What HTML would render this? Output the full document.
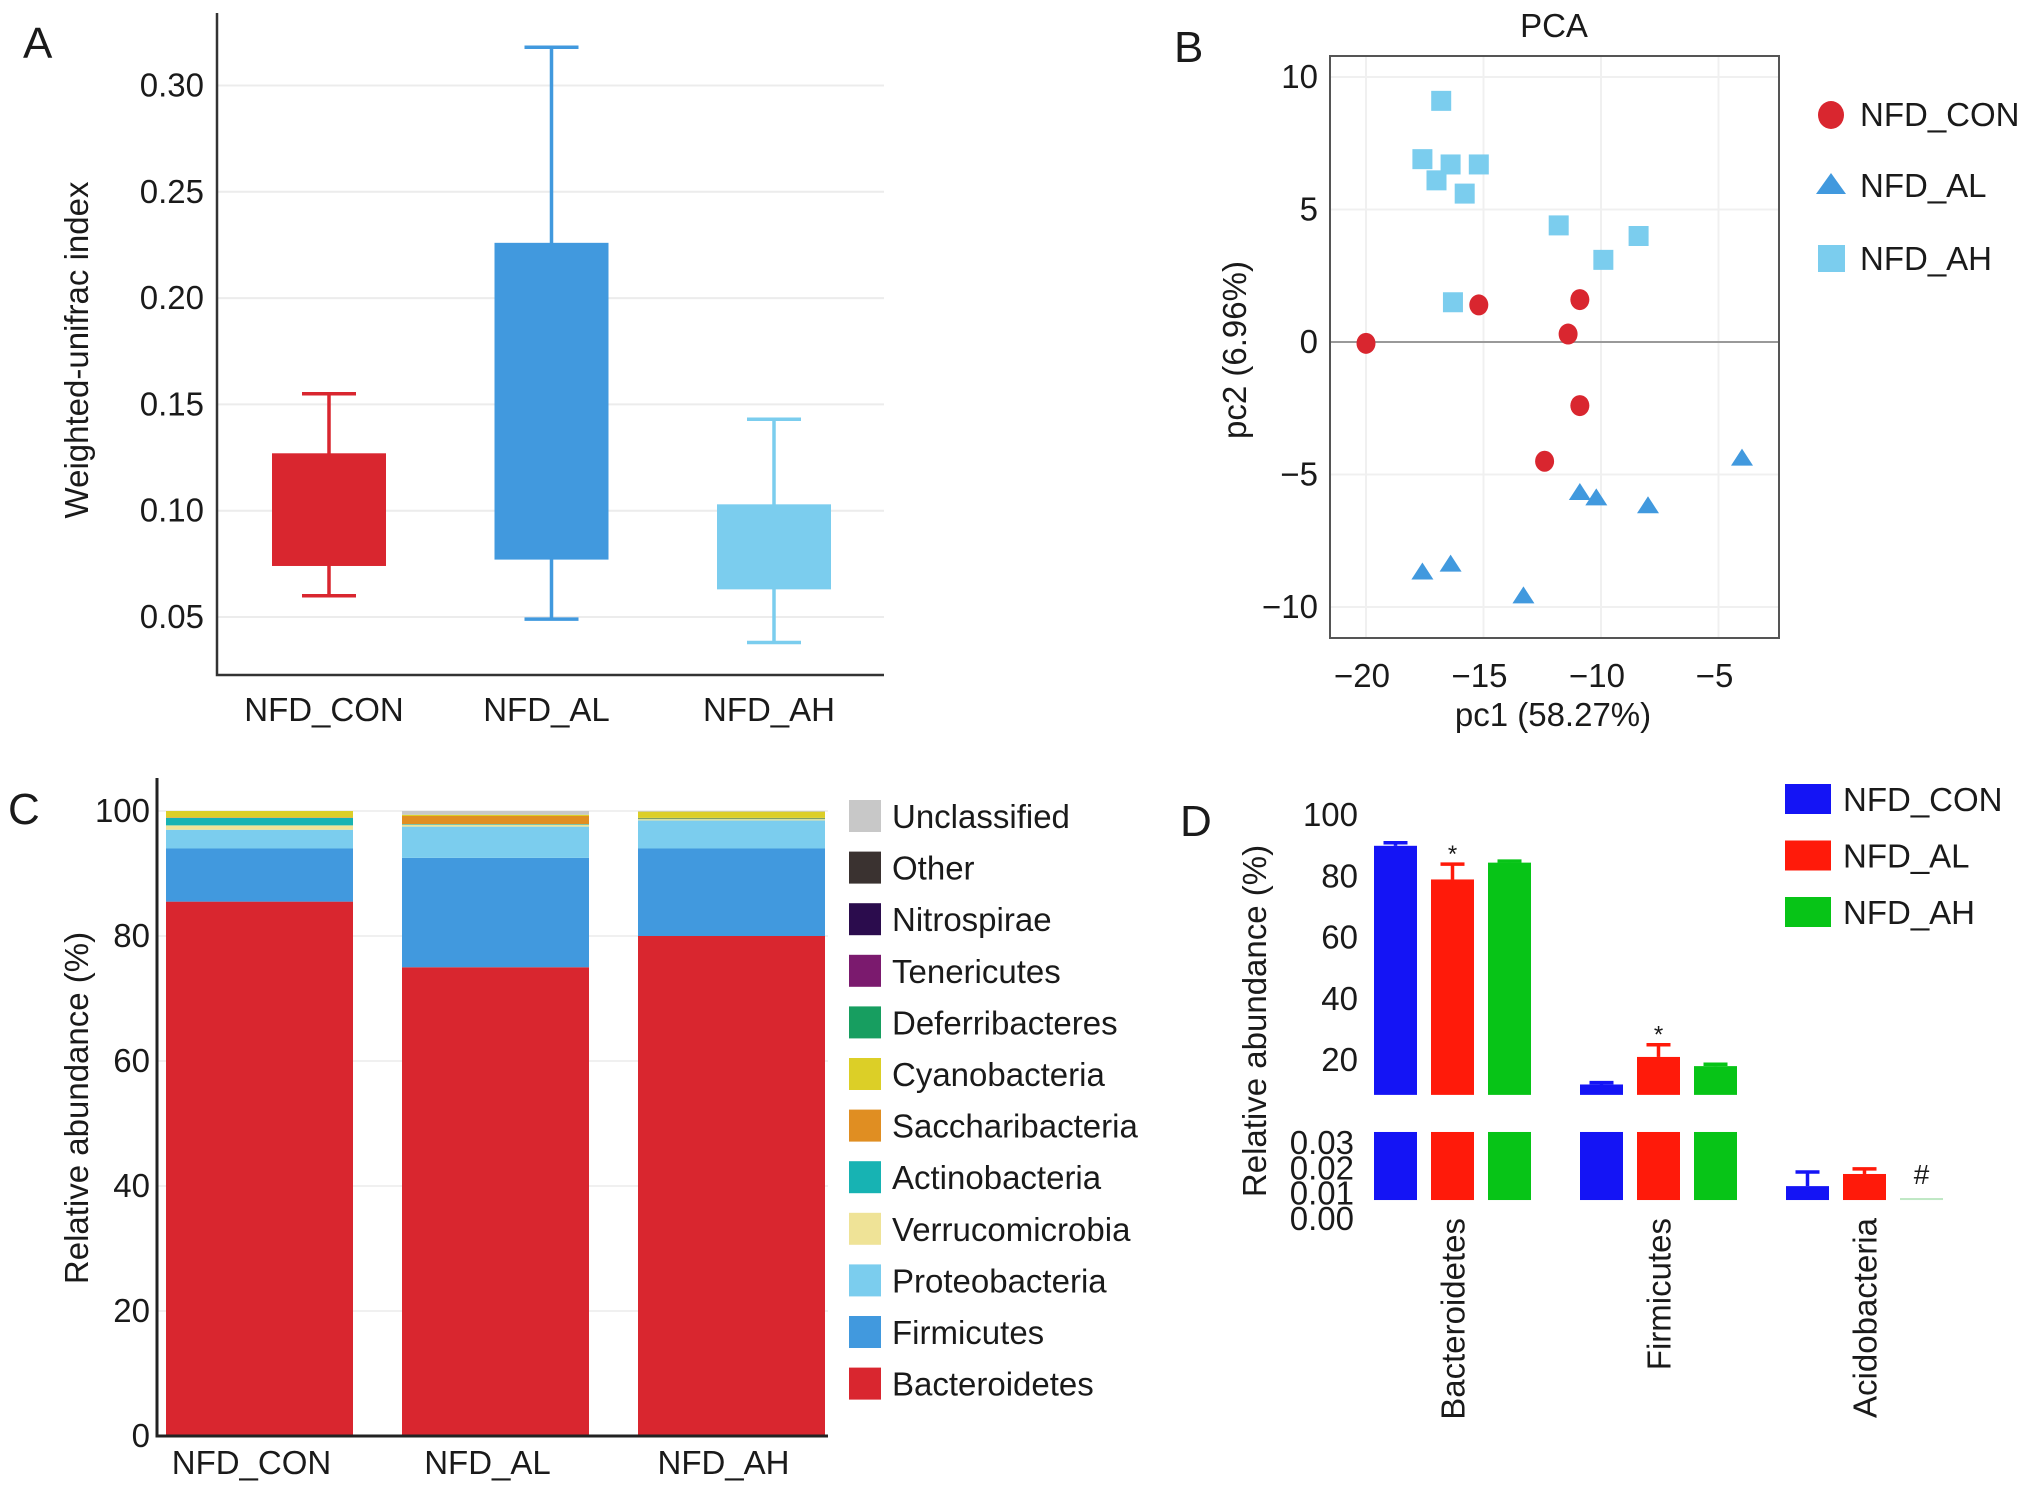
<!DOCTYPE html>
<html><head><meta charset="utf-8">
<style>
html,body{margin:0;padding:0;background:#fff;}
svg{display:block;font-family:"Liberation Sans",Arial,sans-serif;}
text{fill:#1a1a1a;}
</style></head>
<body>
<svg id="fig" width="2032" height="1490" viewBox="0 0 2032 1490" xmlns="http://www.w3.org/2000/svg">
<g id="pa"></g>
<g id="pb"></g>
<g id="pc"></g>
<g id="pd"></g>
</svg>
<script>
// ---------- Panel A data ----------
const aGroups = ["NFD_CON","NFD_AL","NFD_AH"];
const aWhiskLo = [0.060,0.049,0.038];
const aQ1 = [0.074,0.077,0.063];
const aQ3 = [0.127,0.226,0.103];
const aWhiskHi = [0.155,0.318,0.143];
const aTicks = [0.05,0.10,0.15,0.20,0.25,0.30];
const aTickLabels = ["0.05","0.10","0.15","0.20","0.25","0.30"];
// ---------- Panel B data ----------
const bConX = [-20.0,-15.2,-10.9,-11.4,-10.9,-12.4];
const bConY = [-0.05,1.4,1.6,0.3,-2.4,-4.5];
const bAlX = [-17.6,-16.4,-13.3,-10.9,-10.2,-8.0,-4.0];
const bAlY = [-8.7,-8.4,-9.6,-5.7,-5.9,-6.2,-4.4];
const bAhX = [-16.8,-17.6,-16.4,-15.2,-17.0,-15.8,-11.8,-8.4,-9.9,-16.3];
const bAhY = [9.1,6.9,6.7,6.7,6.1,5.6,4.4,4.0,3.1,1.5];
const bXTicks = [-20,-15,-10,-5];
const bYTicks = [-10,-5,0,5,10];
// ---------- Panel C data ----------
const cGroups = ["NFD_CON","NFD_AL","NFD_AH"];
const cPhyla = ["Bacteroidetes","Firmicutes","Proteobacteria","Verrucomicrobia","Actinobacteria","Saccharibacteria","Cyanobacteria","Deferribacteres","Tenericutes","Nitrospirae","Other","Unclassified"];
const cBact = [85.5,75.0,80.0];
const cFirm = [8.5,17.5,14.0];
const cProt = [3.0,5.0,4.5];
const cVerr = [0.7,0.3,0.2];
const cActi = [1.2,0.1,0.1];
const cSacc = [0.1,1.3,0.1];
const cCyan = [1.0,0.2,1.0];
const cDefe = [0.0,0.0,0.0];
const cTene = [0.0,0.0,0.0];
const cNitr = [0.0,0.0,0.0];
const cOthe = [0.0,0.0,0.0];
const cUncl = [0.0,0.6,0.1];
const cTicks = [0,20,40,60,80,100];
// ---------- Panel D data ----------
const dPhyla = ["Bacteroidetes","Firmicutes","Acidobacteria"];
const dSeries = ["NFD_CON","NFD_AL","NFD_AH"];
const dCon = [90.0,12.0,0.0126];
const dAl = [79.0,21.0,0.0174];
const dAh = [84.5,18.0,0.0072];
const dConErr = [1.0,0.6,0.0056];
const dAlErr = [5.0,4.0,0.0020];
const dAhErr = [0.5,0.6,0.0];
const dUpperTicks = [20,40,60,80,100];
const dLowerTicks = ["0.00","0.01","0.02","0.03"];

const NS="http://www.w3.org/2000/svg";
const FS=33;
function mk(parent,tag,attrs,txt){const e=document.createElementNS(NS,tag);for(const k in attrs)e.setAttribute(k,attrs[k]);if(txt!==undefined)e.textContent=txt;parent.appendChild(e);return e;}

// ================= Panel A =================
(function(){
const g=document.getElementById('pa');
const yA=v=>617-(v-0.05)/0.05*106.3;
const xA=i=>329+i*222.5;
const cols=["#d9262f","#4199de","#7bcdee"];
aTicks.forEach((t,i)=>{
  let l=mk(g,'line',{x1:217,x2:884,y1:yA(t),y2:yA(t),stroke:'#ececec','stroke-width':2});
  
  let tx=mk(g,'text',{x:204,y:yA(t)+11,'text-anchor':'end','font-size':FS},aTickLabels[i]);
  
});
aGroups.forEach((name,i)=>{
  const cx=xA(i),c=cols[i];
  let w=mk(g,'line',{x1:cx,x2:cx,y1:yA(aWhiskHi[i]),y2:yA(aWhiskLo[i]),stroke:c,'stroke-width':3.5});
  
  [aWhiskHi[i],aWhiskLo[i]].forEach(v=>{
    let cap=mk(g,'line',{x1:cx-27,x2:cx+27,y1:yA(v),y2:yA(v),stroke:c,'stroke-width':3.5});
    
  });
  let b=mk(g,'rect',{x:cx-57,y:yA(aQ3[i]),width:114,height:yA(aQ1[i])-yA(aQ3[i]),fill:c});
  
  let t=mk(g,'text',{x:cx-5,y:721,'text-anchor':'middle','font-size':FS},name);
  
});
mk(g,'path',{d:'M217 13 V675 H884',fill:'none',stroke:'#333','stroke-width':2.5,});
mk(g,'text',{x:0,y:0,transform:'translate(88,350) rotate(-90)','text-anchor':'middle','font-size':FS,},'Weighted-unifrac index');
mk(g,'text',{x:23,y:58,'font-size':44,},'A');
})();

// ================= Panel B =================
(function(){
const g=document.getElementById('pb');
const xB=v=>1366+(v+20)/5*117.5;
const yB=v=>342-v/5*132.5;
bXTicks.forEach(t=>{
  let l=mk(g,'line',{x1:xB(t),x2:xB(t),y1:56,y2:638,stroke:'#f0f0f0','stroke-width':2});
  
  let tx=mk(g,'text',{x:xB(t)-4,y:687,'text-anchor':'middle','font-size':FS},(t<0?'\u2212':'')+Math.abs(t));
  
});
bYTicks.forEach(t=>{
  let l=mk(g,'line',{x1:1330,x2:1779,y1:yB(t),y2:yB(t),stroke:t===0?'#999':'#f0f0f0','stroke-width':2});
  
  let tx=mk(g,'text',{x:1318,y:yB(t)+11,'text-anchor':'end','font-size':FS},(t<0?'\u2212':'')+Math.abs(t));
  
});
mk(g,'rect',{x:1330,y:56,width:449,height:582,fill:'none',stroke:'#555','stroke-width':2,});
bAhX.forEach((x,i)=>{
  let p=mk(g,'rect',{x:xB(x)-10,y:yB(bAhY[i])-10,width:20,height:20,fill:'#7bcdee'});
  
});
bConX.forEach((x,i)=>{
  let p=mk(g,'ellipse',{cx:xB(x),cy:yB(bConY[i]),rx:9.5,ry:10.5,fill:'#d9262f'});
  
});
bAlX.forEach((x,i)=>{
  const cx=xB(x),cy=yB(bAlY[i]);
  let p=mk(g,'polygon',{points:`${cx},${cy-10} ${cx+11},${cy+7} ${cx-11},${cy+7}`,fill:'#4199de'});
  
});
mk(g,'text',{x:1554,y:37,'text-anchor':'middle','font-size':FS,},'PCA');
mk(g,'text',{x:1553,y:726,'text-anchor':'middle','font-size':FS,},'pc1 (58.27%)');
mk(g,'text',{x:0,y:0,transform:'translate(1246,350) rotate(-90)','text-anchor':'middle','font-size':FS,},'pc2 (6.96%)');
mk(g,'text',{x:1174,y:62,'font-size':44,},'B');
const leg=mk(g,'g',{});
mk(leg,'ellipse',{cx:1831,cy:115,rx:13,ry:14,fill:'#d9262f',});
mk(leg,'polygon',{points:'1831,173 1846,194 1816,194',fill:'#4199de',});
mk(leg,'rect',{x:1818,y:245,width:27,height:27,fill:'#7bcdee',});
[['NFD_CON',126],['NFD_AL',197],['NFD_AH',270]].forEach(([t,y])=>{
  let e=mk(leg,'text',{x:1860,y:y,'font-size':FS},t);
  
});
})();

// ================= Panel C =================
(function(){
const g=document.getElementById('pc');
const yC=v=>1436-v/100*625;
const xC=[166,402,638];
const bw=187;
const cols=["#d9262f","#4199de","#7bcdee","#efe397","#17b3b3","#e08e22","#dccf27","#179e60","#7b1a6e","#2b0c4d","#3a3230","#c8c8c8"];
const series=[cBact,cFirm,cProt,cVerr,cActi,cSacc,cCyan,cDefe,cTene,cNitr,cOthe,cUncl];
cTicks.forEach(t=>{
  let l=mk(g,'line',{x1:157,x2:828,y1:yC(t),y2:yC(t),stroke:'#f0f0f0','stroke-width':2});
  
  let tx=mk(g,'text',{x:150,y:yC(t)+11,'text-anchor':'end','font-size':FS},String(t));
  
});
cGroups.forEach((name,i)=>{
  let base=0;
  series.forEach((s,k)=>{
    const v=s[i]; if(v<=0){return;}
    let r=mk(g,'rect',{x:xC[i],y:yC(base+v),width:bw,height:yC(base)-yC(base+v),fill:cols[k]});
    
    base+=v;
  });
  let t=mk(g,'text',{x:xC[i]+bw/2-8,y:1474,'text-anchor':'middle','font-size':FS},name);
  
});
mk(g,'path',{d:'M157 778 V1436 H828',fill:'none',stroke:'#222','stroke-width':3,});
mk(g,'text',{x:0,y:0,transform:'translate(88,1108) rotate(-90)','text-anchor':'middle','font-size':FS,},'Relative abundance (%)');
mk(g,'text',{x:8,y:824,'font-size':44,},'C');
const order=[11,10,9,8,7,6,5,4,3,2,1,0];
order.forEach((k,j)=>{
  const y=800+j*51.6;
  let sw=mk(g,'rect',{x:849,y:y,width:32,height:32,fill:cols[k]});
  
  let t=mk(g,'text',{x:892,y:y+28,'font-size':FS},cPhyla[k]);
  
});
})();

// ================= Panel D =================
(function(){
const g=document.getElementById('pd');
const upBase=8.6, loBase=0.0071, loTop=0.034;
const yU=v=>1060-(v-20)/20*61.2;
const yL=v=>1218-v/0.01*25.3;
const gx=[1374,1580,1786];
const step=57, bw=43;
const cols=["#1414f5","#ff1a0a","#07c417"];
const vals=[dCon,dAl,dAh], errs=[dConErr,dAlErr,dAhErr];
dUpperTicks.forEach(t=>{
  let tx=mk(g,'text',{x:1358,y:yU(t)+11,'text-anchor':'end','font-size':FS},String(t));
  
});
dLowerTicks.forEach(t=>{
  let tx=mk(g,'text',{x:1354,y:yL(parseFloat(t))+12,'text-anchor':'end','font-size':FS},t);
  
});
dPhyla.forEach((ph,p)=>{
  dSeries.forEach((s,k)=>{
    const x=gx[p]+k*step, v=vals[k][p], e=errs[k][p], c=cols[k];
    if(v>1){
      let r=mk(g,'rect',{x:x,y:yU(v),width:bw,height:yU(upBase)-yU(v),fill:c});
      
      let el=mk(g,'line',{x1:x+bw/2,x2:x+bw/2,y1:yU(v),y2:yU(v+e),stroke:c,'stroke-width':3.5});
      
      let ec=mk(g,'line',{x1:x+bw/2-12,x2:x+bw/2+12,y1:yU(v+e),y2:yU(v+e),stroke:c,'stroke-width':3.5});
      
      let r2=mk(g,'rect',{x:x,y:yL(loTop),width:bw,height:yL(loBase)-yL(loTop),fill:c});
      
    } else {
      const h=Math.max(yL(loBase)-yL(v),2);
      let r=mk(g,'rect',{x:x,y:yL(loBase)-h,width:bw,height:h,fill:v-loBase<0.0005?'#bfe8c4':c});
      
      if(e>0){
        let el=mk(g,'line',{x1:x+bw/2,x2:x+bw/2,y1:yL(v),y2:yL(v+e),stroke:c,'stroke-width':3.5});
        
        let ec=mk(g,'line',{x1:x+bw/2-12,x2:x+bw/2+12,y1:yL(v+e),y2:yL(v+e),stroke:c,'stroke-width':3.5});
        
      }
    }
  });
  let lab=mk(g,'text',{x:0,y:0,transform:`translate(${gx[p]+step+bw/2+12},1218) rotate(-90)`,'text-anchor':'end','font-size':FS},ph);
  
});
mk(g,'text',{x:gx[0]+step+bw/2,y:yU(dAl[0]+dAlErr[0])-2,'text-anchor':'middle','font-size':24,},'*');
mk(g,'text',{x:gx[1]+step+bw/2,y:yU(dAl[1]+dAlErr[1])-2,'text-anchor':'middle','font-size':24,},'*');
mk(g,'text',{x:gx[2]+2*step+bw/2,y:1184,'text-anchor':'middle','font-size':28,},'#');
mk(g,'text',{x:0,y:0,transform:'translate(1266,1021) rotate(-90)','text-anchor':'middle','font-size':FS,},'Relative abundance (%)');
mk(g,'text',{x:1180,y:836,'font-size':44,},'D');
dSeries.forEach((s,k)=>{
  const y=784+k*56.5;
  let sw=mk(g,'rect',{x:1785,y:y,width:46,height:30,fill:cols[k]});
  
  let t=mk(g,'text',{x:1843,y:y+27,'font-size':FS},s);
  
});
})();
</script>
</body></html>
